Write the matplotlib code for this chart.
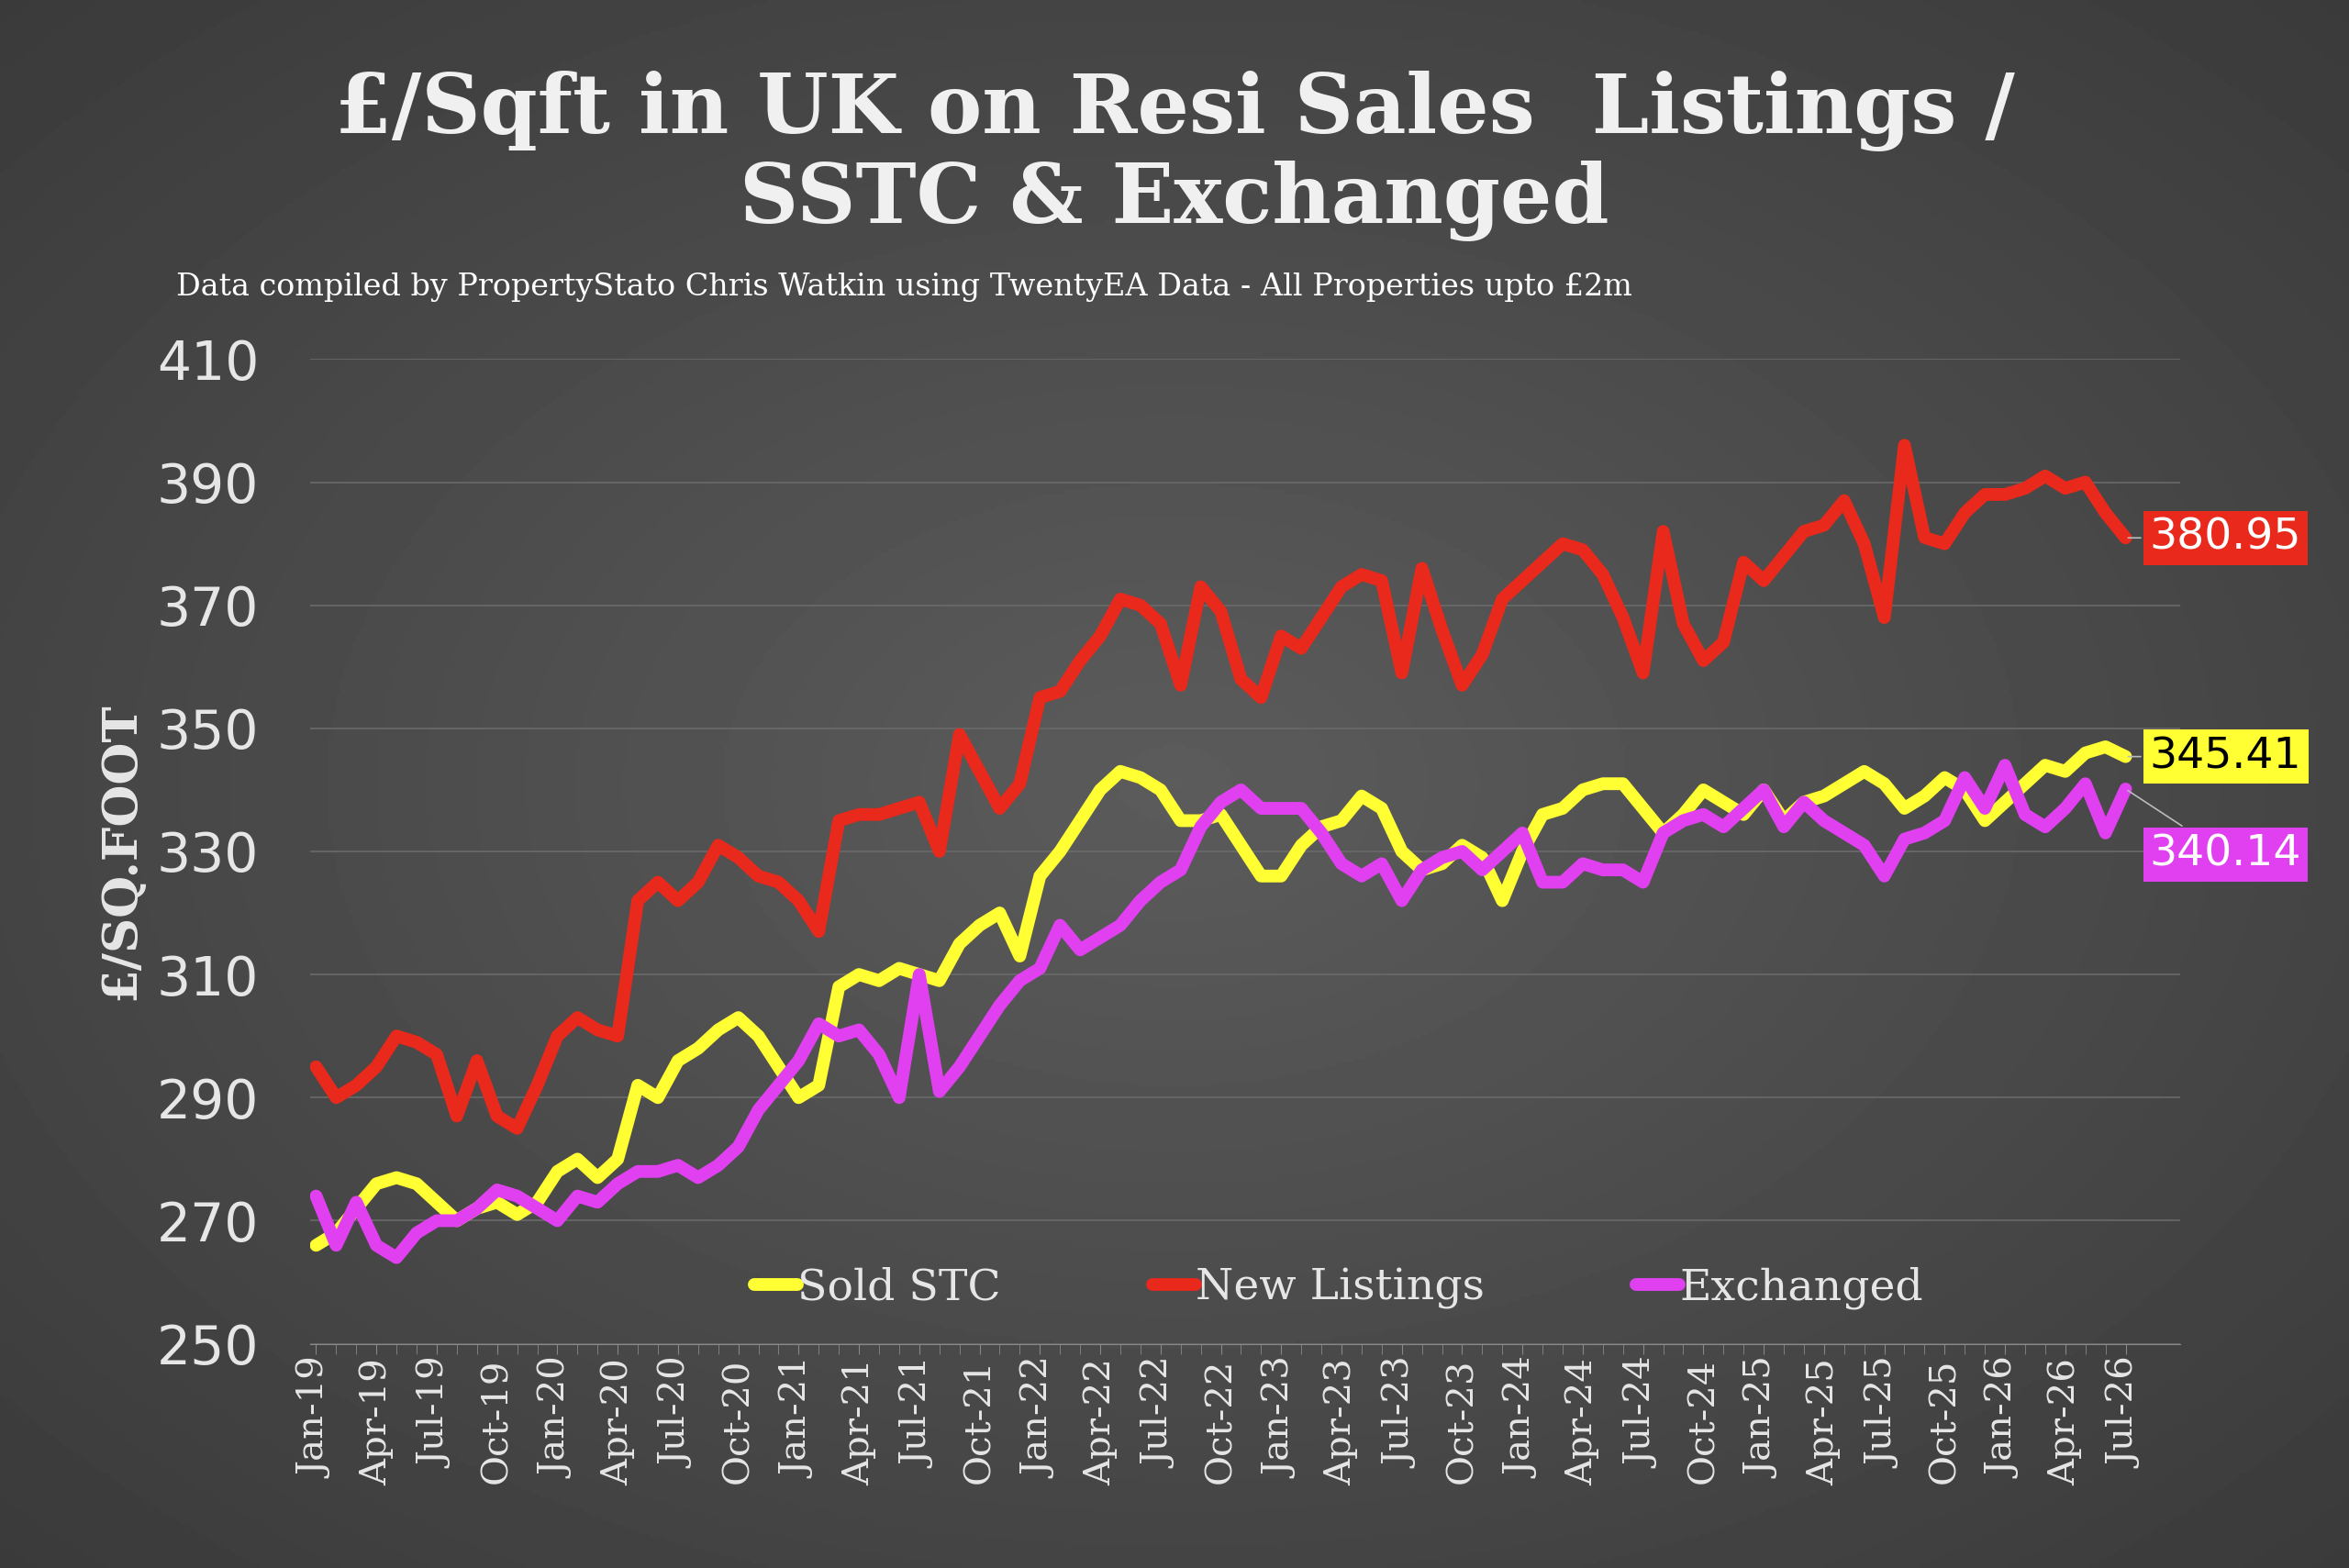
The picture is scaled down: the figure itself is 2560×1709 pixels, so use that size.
import numpy as np
import pandas as pd
import matplotlib
matplotlib.use("Agg")
import matplotlib.pyplot as plt

months = pd.date_range("2019-01-01", "2026-07-01", freq="MS")

new_listings = [
    295, 290, 292, 295, 300, 299, 297, 287, 296, 287, 285, 292,
    300, 303, 301, 300, 322, 325, 322, 325, 331, 329, 326, 325,
    322, 317, 335, 336, 336, 337, 338, 330, 349, 343, 337, 341,
    355, 356, 361, 365, 371, 370, 367, 357, 373, 369, 358, 355,
    365, 363, 368, 373, 375, 374, 359, 376, 366, 357, 362, 371,
    374, 377, 380, 379, 375, 368, 359, 382, 367, 361, 364, 377,
    374, 378, 382, 383, 387, 380, 368, 396, 381, 380, 385, 388,
    388, 389, 391, 389, 390, 385, 380.95,
]
sold_stc = [
    266, 268, 272, 276, 277, 276, 273, 270, 272, 273, 271, 273,
    278, 280, 277, 280, 292, 290, 296, 298, 301, 303, 300, 295,
    290, 292, 308, 310, 309, 311, 310, 309, 315, 318, 320, 313,
    326, 330, 335, 340, 343, 342, 340, 335, 335, 336, 331, 326,
    326, 331, 334, 335, 339, 337, 330, 327, 328, 331, 329, 322,
    330, 336, 337, 340, 341, 341, 337, 333, 336, 340, 338, 336,
    340, 335, 338, 339, 341, 343, 341, 337, 339, 342, 340, 335,
    338, 341, 344, 343, 346, 347, 345.41,
]
exchanged = [
    274, 266, 273, 266, 264, 268, 270, 270, 272, 275, 274, 272,
    270, 274, 273, 276, 278, 278, 279, 277, 279, 282, 288, 292,
    296, 302, 300, 301, 297, 290, 310, 291, 295, 300, 305, 309,
    311, 318, 314, 316, 318, 322, 325, 327, 334, 338, 340, 337,
    337, 337, 333, 328, 326, 328, 322, 327, 329, 330, 327, 330,
    333, 325, 325, 328, 327, 327, 325, 333, 335, 336, 334, 337,
    340, 334, 338, 335, 333, 331, 326, 332, 333, 335, 342, 337,
    344, 336, 334, 337, 341, 333, 340.14,
]

fig = plt.figure(figsize=(25.6, 17.09), dpi=100)

# radial grey background
bg = fig.add_axes([0, 0, 1, 1])
yy, xx = np.mgrid[-1:1:400j, -1:1:600j]
r = np.sqrt(xx**2 + yy**2)
bg.imshow(0.36 - 0.13 * np.clip(r, 0, 1.4) / 1.4, cmap="gray", vmin=0, vmax=1,
          aspect="auto", extent=[0, 1, 0, 1])
bg.axis("off")

ax = fig.add_axes([0.132, 0.143, 0.796, 0.628])
ax.set_facecolor("none")
x = np.arange(len(months))
lw = 10
ax.plot(x, sold_stc, color="#ffff33", lw=lw, solid_capstyle="round", solid_joinstyle="round", label="Sold STC")
ax.plot(x, new_listings, color="#e8291c", lw=lw, solid_capstyle="round", solid_joinstyle="round", label="New Listings")
ax.plot(x, exchanged, color="#e040f0", lw=lw, solid_capstyle="round", solid_joinstyle="round", label="Exchanged")

ax.set_ylim(250, 410)
ax.set_yticks(range(250, 411, 20))
ax.set_xlim(-0.3, len(x) + 1.7)
ax.grid(axis="y", color="#6a6a6a", lw=1.2)
ax.set_axisbelow(True)
for s in ["top", "right", "left"]:
    ax.spines[s].set_visible(False)
ax.spines["bottom"].set_color("#888888")
ax.tick_params(axis="y", length=0, labelsize=42, labelcolor="#e6e6e6", pad=40)
ax.set_xticks(x[::3])
ax.set_xticklabels([m.strftime("%b-%y") for m in months[::3]], rotation=90,
                   fontsize=29, color="#e6e6e6", family="DejaVu Serif")
ax.set_xticks(x, minor=True)
ax.tick_params(axis="x", which="both", color="#888888", length=8)
ax.set_ylabel("£/SQ.FOOT", fontsize=38, color="#e6e6e6", fontweight="bold",
              family="DejaVu Serif", labelpad=10)

leg = ax.legend(loc="lower center", bbox_to_anchor=(0.55, -0.005), ncol=3, frameon=False,
                handlelength=1.0, columnspacing=3.5, handletextpad=0.0,
                prop={"family": "DejaVu Serif", "size": 34})
for t in leg.get_texts():
    t.set_color("#e6e6e6")

def end_label(val, ytxt, fc, tc):
    ax.annotate(f"{val:.2f}", xy=(x[-1], val), xytext=(x[-1] + 1.2, ytxt),
                fontsize=34, color=tc, va="center", ha="left",
                bbox=dict(boxstyle="square,pad=0.15", fc=fc, ec="none"),
                arrowprops=dict(arrowstyle="-", color="#bbbbbb", lw=1.2))

end_label(new_listings[-1], 380.95, "#e8291c", "white")
end_label(sold_stc[-1], 345.41, "#ffff33", "black")
end_label(exchanged[-1], 329.5, "#e040f0", "white")

fig.text(0.5, 0.955, "£/Sqft in UK on Resi Sales  Listings /\nSSTC & Exchanged",
         ha="center", va="top", fontsize=64, fontweight="bold", color="#f0f0f0",
         family="DejaVu Serif", linespacing=1.15)
fig.text(0.075, 0.817, "Data compiled by PropertyStato Chris Watkin using TwentyEA Data - All Properties upto £2m",
         ha="left", va="center", fontsize=24, color="white", family="DejaVu Serif")

fig.savefig("out.png", dpi=100)
